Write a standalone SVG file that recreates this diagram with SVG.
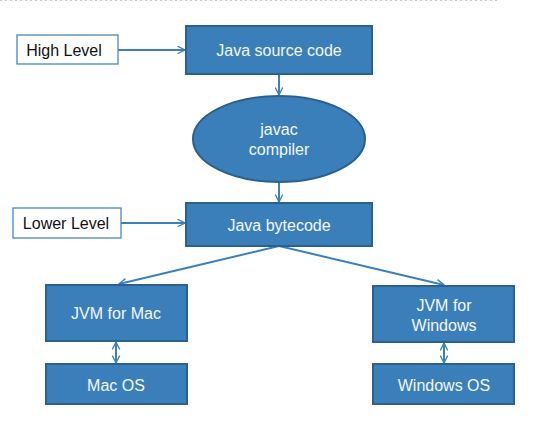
<svg xmlns="http://www.w3.org/2000/svg" width="533" height="427" viewBox="0 0 533 427">
<style>
.box{fill:#3a7fba;stroke:#2b6190;stroke-width:2}
.lbl{fill:#fff;stroke:#4a86c0;stroke-width:1.3}
.t{font-family:"Liberation Sans",Arial,sans-serif;font-size:16px;text-anchor:middle;fill:#f4f7fb}
.tk{font-family:"Liberation Sans",Arial,sans-serif;font-size:16px;text-anchor:middle;fill:#111}
.c{stroke:#3a80bd;stroke-width:2;fill:none}
</style>
<defs>
<marker id="ah2" viewBox="0 0 12 12" refX="11" refY="6" markerWidth="9" markerHeight="9" orient="auto-start-reverse" markerUnits="userSpaceOnUse">
<path d="M1,1 L11,6 L1,11" fill="none" stroke="#3a80bd" stroke-width="1.8"/>
</marker>
</defs>
<rect width="533" height="427" fill="#fff"/>
<line x1="0" y1="0.5" x2="497" y2="0.5" stroke="#c8c8c8" stroke-width="1" stroke-dasharray="2,3"/>
<g id="connectors">
<line class="c" x1="118" y1="50" x2="185" y2="50" marker-end="url(#ah2)"/>
<line class="c" x1="279" y1="75" x2="279" y2="95" marker-end="url(#ah2)"/>
<line class="c" x1="279" y1="182" x2="279" y2="202" marker-end="url(#ah2)"/>
<line class="c" x1="121" y1="223" x2="185" y2="223" marker-end="url(#ah2)"/>
<line class="c" x1="279" y1="246" x2="119" y2="284" marker-end="url(#ah2)"/>
<line class="c" x1="279" y1="246" x2="444" y2="285" marker-end="url(#ah2)"/>
<line class="c" x1="116" y1="342" x2="116" y2="363" marker-start="url(#ah2)" marker-end="url(#ah2)"/>
<line class="c" x1="444" y1="343" x2="444" y2="363" marker-start="url(#ah2)" marker-end="url(#ah2)"/>
</g>
<g id="high-level"><rect class="lbl" x="17" y="35" width="101" height="29"/><text class="tk" x="64" y="56">High Level</text></g>
<g id="java-source"><rect class="box" x="186" y="26" width="186" height="48"/><text class="t" x="279" y="56">Java source code</text></g>
<g id="javac"><ellipse class="box" cx="279" cy="139" rx="86" ry="43"/><text class="t" x="279" y="135">javac</text><text class="t" x="279" y="155">compiler</text></g>
<g id="lower-level"><rect class="lbl" x="13" y="208" width="108" height="30"/><text class="tk" x="66" y="229">Lower Level</text></g>
<g id="bytecode"><rect class="box" x="186" y="203" width="186" height="43"/><text class="t" x="279" y="231">Java bytecode</text></g>
<g id="jvm-mac"><rect class="box" x="46" y="285" width="141" height="56"/><text class="t" x="116" y="319">JVM for Mac</text></g>
<g id="mac-os"><rect class="box" x="46" y="364" width="141" height="40"/><text class="t" x="116" y="391">Mac OS</text></g>
<g id="jvm-win"><rect class="box" x="373" y="286" width="141" height="56"/><text class="t" x="444" y="311">JVM for</text><text class="t" x="444" y="331">Windows</text></g>
<g id="win-os"><rect class="box" x="373" y="364" width="141" height="40"/><text class="t" x="444" y="391">Windows OS</text></g>
</svg>
